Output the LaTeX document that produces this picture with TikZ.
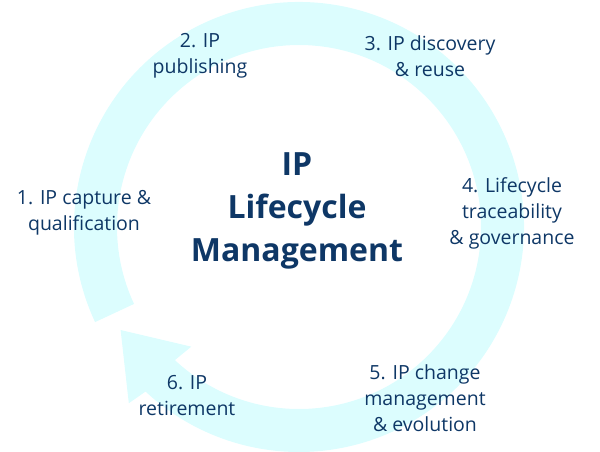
\documentclass[tikz,border=0pt]{standalone}
\usepackage{fontspec}
\setmainfont{Open Sans}
\definecolor{ringc}{HTML}{DCFDFE}
\definecolor{navy}{HTML}{0E3766}
\begin{document}
\begin{tikzpicture}[x=1pt,y=1pt,
  lab/.style={text=navy,align=center,font=\fontsize{19.5}{26}\selectfont,inner sep=0pt},
  ttl/.style={text=navy,align=center,font=\fontsize{32}{43}\selectfont\bfseries,inner sep=0pt}]
\useasboundingbox (0,0) rectangle (600,-451);
\begin{scope}[shift={(299,-227)}]
\fill[ringc] (205:225) arc[start angle=205,end angle=-133,radius=225]
  -- (-134:245) -- (210:206) -- (-132:161) -- (-133:182)
  arc[start angle=-133,end angle=205,radius=182] -- cycle;
\end{scope}
\node[ttl] (c) at (297,-211) {IP\\Lifecycle\\Management};
\node[lab] (n1) at (84,-213) {1. IP capture \&\\qualification};
\node[lab] (n2) at (200,-56) {2. IP\\publishing};
\node[lab] (n3) at (430,-56) {3. IP discovery\\\& reuse};
\node[lab] (n4) at (512,-213) {4. Lifecycle\\traceability\\\& governance};
\node[lab] (n5) at (425,-398) {5. IP change\\management\\\& evolution};
\node[lab] (n6) at (187,-396) {6. IP\\retirement};
\end{tikzpicture}
\end{document}
